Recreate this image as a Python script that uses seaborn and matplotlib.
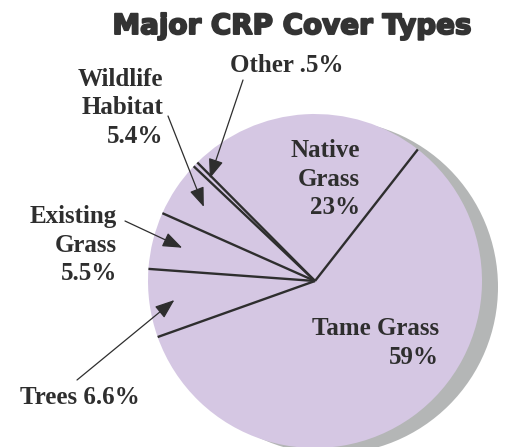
import numpy as np
import matplotlib
matplotlib.use("Agg")
import matplotlib.pyplot as plt
import matplotlib.patheffects as pe
import seaborn as sns
from matplotlib.patches import Circle

sns.set_theme(style="white")
plt.rcParams["font.family"] = ["Liberation Serif", "DejaVu Serif"]

# CRP acreage by cover type (percent of enrolled land)
categories = ["Native Grass", "Other", "Wildlife Habitat", "Existing Grass", "Trees", "Tame Grass"]
shares = [23, 0.5, 5.4, 5.5, 6.6, 59]
labels = ["Native\nGrass\n23%", "Other .5%", "Wildlife\nHabitat\n5.4%",
          "Existing\nGrass\n5.5%", "Trees 6.6%", "Tame Grass\n59%"]

W, H = 511, 447
fig = plt.figure(figsize=(W / 100, H / 100), dpi=100)
ax = fig.add_axes([0, 0, 1, 1])

# pie centre and radius in pixels; the axes map pixels to unit-radius data coords
cx, cy, R = 315, 281, 167


def px(x, y):
    return ((x - cx) / R, (cy - y) / R)


fill = "#d5c7e3"
ink = "#2e2e2e"

# drop shadow behind the pie
ax.add_patch(Circle(px(331, 287), 1.0, color="#b4b6b6", zorder=1, lw=0))

wedges, _ = ax.pie(shares, startangle=52, counterclock=True,
                   colors=[fill] * len(shares), radius=1.0, center=(0, 0),
                   wedgeprops=dict(linewidth=0, zorder=2), frame=True)

# dark dividers between the slices
for w in wedges:
    a = np.deg2rad(w.theta1)
    ax.plot([0, np.cos(a)], [0, np.sin(a)], color=ink, lw=1.7,
            solid_capstyle="butt", zorder=3)

ax.set_xlim((0 - cx) / R, (W - cx) / R)
ax.set_ylim((cy - H) / R, cy / R)
ax.set_aspect("auto")
ax.axis("off")

tfont = dict(fontsize=18, fontweight="bold", color=ink, linespacing=1.3)

# labels inside the pie
ax.text(*px(360, 179), labels[0], ha="right", va="center", multialignment="right", zorder=4, **tfont)
ax.text(*px(439, 343), labels[5], ha="right", va="center", multialignment="right", zorder=4, **tfont)

# labels outside with pointer arrows
outside = {
    1: dict(pos=(287, 66), ha="center", start=(243, 80), r=0.88),
    2: dict(pos=(163, 108), ha="right", start=(168, 116), r=0.80),
    3: dict(pos=(117, 245), ha="right", start=(125, 221), r=0.82),
    4: dict(pos=(20, 398), ha="left", start=(77, 380), r=0.85),
}
for i, o in outside.items():
    ax.text(*px(*o["pos"]), labels[i], ha=o["ha"], va="center",
            multialignment="right", zorder=4, **tfont)
    w = wedges[i]
    mid = np.deg2rad((w.theta1 + w.theta2) / 2)
    tip = (o["r"] * np.cos(mid), o["r"] * np.sin(mid))
    ax.annotate("", xy=tip, xytext=px(*o["start"]), zorder=5,
                arrowprops=dict(arrowstyle="-|>,head_length=1.0,head_width=0.38",
                                mutation_scale=12, color=ink, lw=0.9,
                                shrinkA=0, shrinkB=0))

fig.text(292 / W, 1 - 34 / H, "Major CRP Cover Types", ha="center", va="baseline",
         fontsize=20, fontweight="bold", color="#333333",
         family=["DejaVu Sans"],
         path_effects=[pe.withStroke(linewidth=1.4, foreground="#333333")])

fig.savefig("out.png", dpi=100, facecolor="white")
